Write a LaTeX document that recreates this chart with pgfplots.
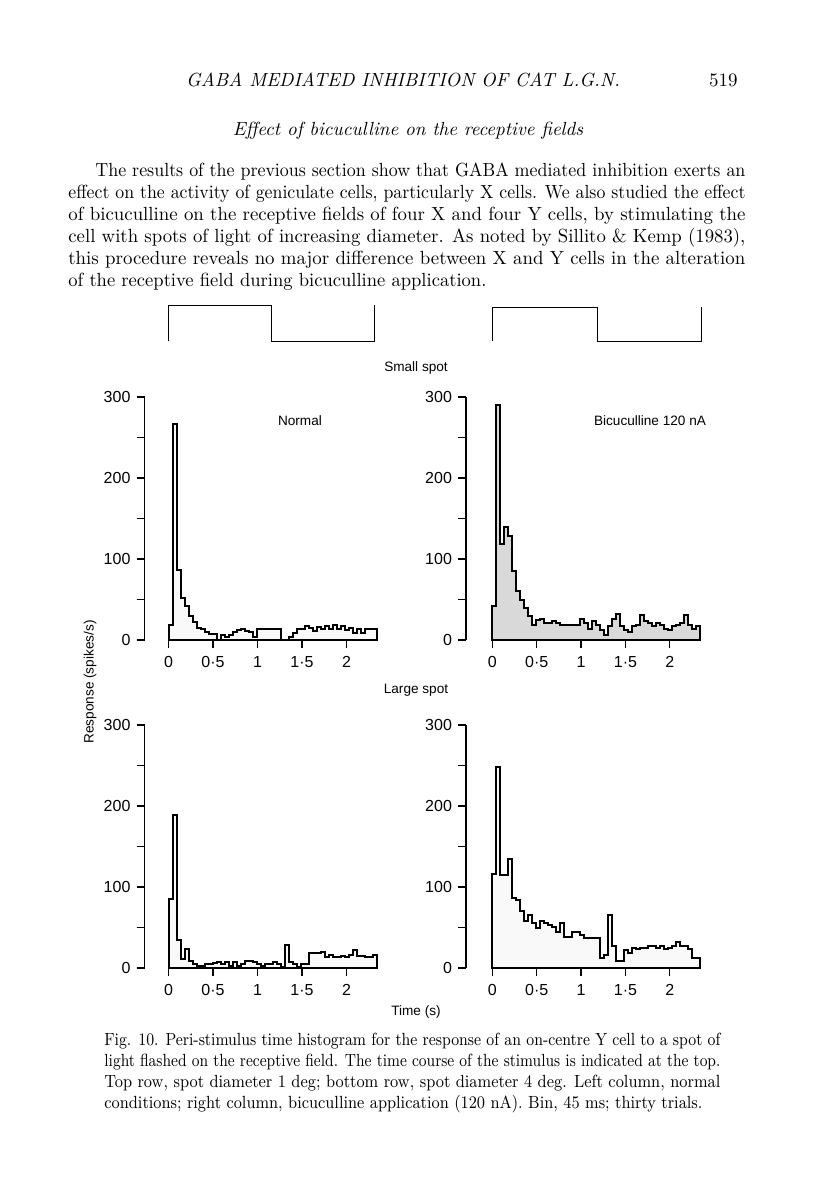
\documentclass[border=0pt]{standalone}
\usepackage{fontspec}
\usepackage{graphicx}
\usepackage{pgfplots}
\usepackage{pgfplotstable}
\pgfplotsset{compat=1.18}
\newfontfamily\figfont{Liberation Sans}
\newcommand\ff{\figfont\fontsize{6.8}{8}\selectfont}
\newcommand\tf{\figfont\fontsize{8}{9}\selectfont}
\newcommand\bodyf{\fontsize{9.5}{11}\selectfont}
\newcommand\capf{\fontsize{8.8}{10}\selectfont}

\pgfplotstableread{
x a b c d
0     18  42  85 116
0.045 267 290 189 248
0.09  86 119  34 115
0.135 52 139  11 115
0.18  42 128  23 134
0.225 30  85   9  87
0.27  22  61   5  84
0.315 15  50   2  71
0.36  13  39   3  58
0.405 10  30   5  66
0.45   8  19   5  56
0.495  7  25   6  49
0.54   0  26   7  58
0.585  6  21   5  55
0.63   4  21   7  53
0.675  6  24   3  51
0.72  10  21   7  44
0.765 12  19   3  55
0.81  13  19   5  38
0.855 11  19   9  38
0.9   10  19   9  45
0.945  4  19   7  45
0.99  13  26   5  41
1.035 14  21   2  37
1.08  13  13   5  37
1.125 14  24   5  37
1.17  13  19   7  37
1.215 14  12   5  12
1.26   0   6   1  16
1.305  0  17  28  66
1.35   4  26   7  27
1.395  9  32   5   9
1.44  13  17   1   9
1.485 13  12   5  22
1.53  17  10   5  18
1.575 15  17  18  25
1.62  11  19  18  23
1.665 16  31  19  25
1.71  13  24  20  25
1.755 17  21  14  27
1.8   14  17  16  27
1.845 18  21  14  25
1.89  14  19  14  27
1.935 17  14  15  23
1.98  12  12  14  25
2.025 15  17  16  27
2.07   9  19  22  32
2.115 14  21  15  27
2.16   9  31  15  27
2.205 13  19  14  23
2.25  13  14  14  12
2.295 13  17  16  12
2.34  13  17  16  12
}\psth

\pgfplotsset{
  psth/.style={
    scale only axis, width=117pt, height=121.5pt,
    ymin=0, ymax=300, xmax=2.36,
    axis x line=bottom, axis y line=left,
    axis line style={-, line width=0.6pt},
    x axis line style={draw=none},
    tick style={line width=0.6pt, black},
    tick align=outside, major tick length=4pt,
    ytick={0,50,...,300}, yticklabels={0,,100,,200,,300},
    xtick={0,0.5,1,1.5,2}, xticklabels={0,0·5,1,1·5,2},
    tick label style={font=\tf},
    yticklabel style={xshift=0.5pt},
    xticklabel style={yshift=-0.5pt},
    clip=false,
  },
  hist/.style={const plot, draw=black, line width=1pt, mark=none},
  stim/.style={sharp plot, draw=black, line width=0.5pt, mark=none},
}

\begin{document}
\begin{tikzpicture}
\path[use as bounding box, fill=white] (0,0) rectangle (408pt,-601.5pt);

\begin{scope}[x=0.5pt,y=-0.5pt]
% running head
\node[anchor=base, inner sep=0, font=\bodyf\itshape] at (403,87) {GABA MEDIATED INHIBITION OF CAT L.G.N.};
\node[anchor=base east, inner sep=0, font=\bodyf] at (738,87) {519};
\node[anchor=base, inner sep=0, font=\bodyf\itshape] at (408,136) {Effect of bicuculline on the receptive fields};

% body text
\begin{scope}[every node/.style={anchor=base west, inner sep=0, font=\bodyf}]
\node at (95,177) {\resizebox{325pt}{\height}{The results of the previous section show that GABA mediated inhibition exerts an}};
\node at (68,199) {\resizebox{338.5pt}{\height}{effect on the activity of geniculate cells, particularly X cells. We also studied the effect}};
\node at (68,221) {\resizebox{338.5pt}{\height}{of bicuculline on the receptive fields of four X and four Y cells, by stimulating the}};
\node at (68,243) {\resizebox{338.5pt}{\height}{cell with spots of light of increasing diameter. As noted by Sillito \& Kemp (1983),}};
\node at (68,265) {\resizebox{338.5pt}{\height}{this procedure reveals no major difference between X and Y cells in the alteration}};
\node at (68,287) {\resizebox{209pt}{\height}{of the receptive field during bicuculline application.}};
\end{scope}

% figure labels
\node[font=\ff] at (416,368) {Small spot};
\node[font=\ff] at (416,690) {Large spot};
\node[font=\ff] at (416,1012) {Time (s)};
\node[font=\ff] at (300,421) {Normal};
\node[font=\ff] at (650,421) {Bicuculline 120 nA};
\node[font=\ff, rotate=90] at (90,682) {Response (spikes/s)};

% caption
\begin{scope}[every node/.style={anchor=base west, inner sep=0, font=\capf}]
\node at (104,1045) {\resizebox{308pt}{\height}{Fig. 10. Peri-stimulus time histogram for the response of an on-centre Y cell to a spot of}};
\node at (104,1066) {\resizebox{308pt}{\height}{light flashed on the receptive field. The time course of the stimulus is indicated at the top.}};
\node at (104,1087) {\resizebox{308pt}{\height}{Top row, spot diameter 1 deg; bottom row, spot diameter 4 deg. Left column, normal}};
\node at (104,1108) {\resizebox{299pt}{\height}{conditions; right column, bicuculline application (120 nA). Bin, 45 ms; thirty trials.}};
\end{scope}
\end{scope}

% top left
\begin{axis}[psth, at={(72.25pt,-320pt)}, anchor=south west, xmin=-0.27]
\addplot[hist, fill=gray!5] table[x=x,y=a]{\psth} \closedcycle;
\addplot[stim] coordinates {(0,369) (0,413) (1.16,413) (1.16,369) (2.32,369) (2.32,413)};
\end{axis}
% top right
\begin{axis}[psth, at={(233pt,-320pt)}, anchor=south west, xmin=-0.296, xmax=2.34]
\addplot[hist, fill=gray!30] table[x=x,y=b]{\psth} \closedcycle;
\addplot[stim] coordinates {(0,369) (0,411) (1.18,411) (1.18,369) (2.36,369) (2.36,411)};
\end{axis}
% bottom left
\begin{axis}[psth, at={(72.25pt,-484pt)}, anchor=south west, xmin=-0.27]
\addplot[hist, fill=gray!5] table[x=x,y=c]{\psth} \closedcycle;
\end{axis}
% bottom right
\begin{axis}[psth, at={(233pt,-484pt)}, anchor=south west, xmin=-0.296, xmax=2.34]
\addplot[hist, fill=gray!5] table[x=x,y=d]{\psth} \closedcycle;
\end{axis}
\end{tikzpicture}
\end{document}
